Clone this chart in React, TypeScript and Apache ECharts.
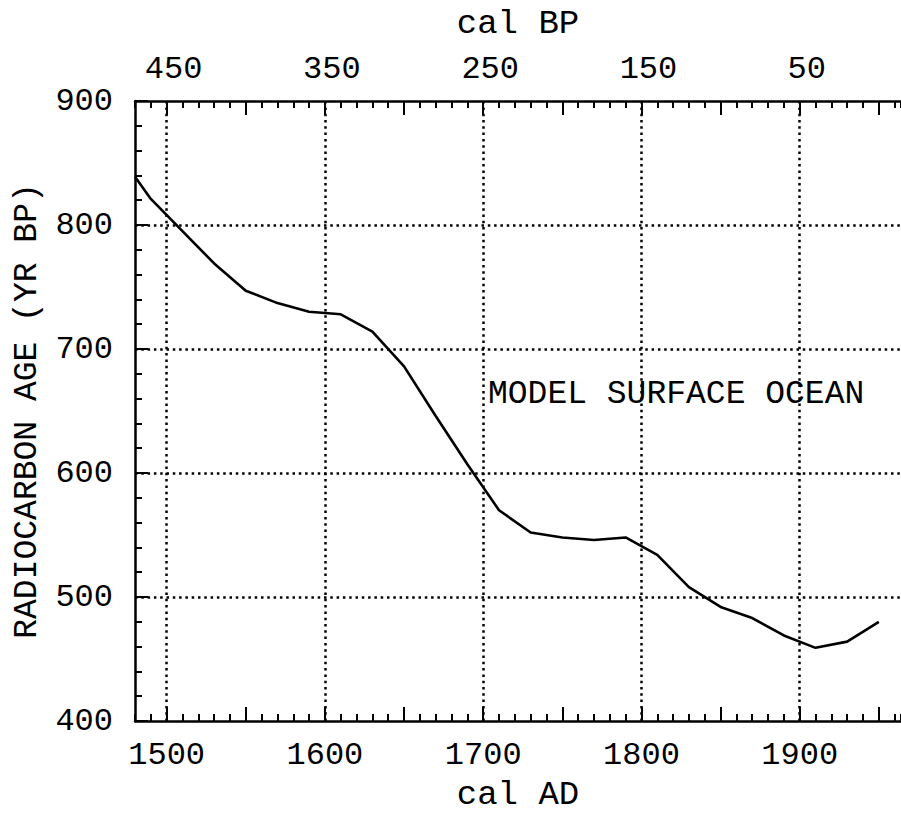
import React, { useEffect, useRef } from "react";
import * as echarts from "echarts";

const years = [1480, 1490, 1530, 1550, 1570, 1590, 1610, 1630, 1650, 1670, 1690, 1710, 1730, 1750, 1770, 1790, 1810, 1830, 1850, 1870, 1890, 1910, 1930, 1950];
const ages = [839, 821, 769, 747, 737, 730, 728, 714, 686, 646, 607, 570, 552, 548, 546, 548, 534, 508, 492, 483, 469, 459, 464, 480];

const adMajorTicks = [1500, 1550, 1600, 1650, 1700, 1750, 1800, 1850, 1900, 1950];
const adLabels = [1500, 1600, 1700, 1800, 1900];
const yGrid = [500, 600, 700, 800];
const xGrid = [1500, 1600, 1700, 1800, 1900];
const annotation = "MODEL SURFACE OCEAN";

const FONT = "Liberation Mono";

export default function App() {
  const ref = useRef<HTMLDivElement>(null);
  useEffect(() => {
    if (!ref.current) return;
    const chart = echarts.init(ref.current, null, { renderer: "svg" });
    const black = "#000";
    const labelStyle = { color: black, fontFamily: FONT, fontSize: 32 };
    const nameStyle = { color: black, fontFamily: FONT, fontSize: 34 };
    const xBase = { type: "value", min: 1480, max: 1964, gridIndex: 0, splitLine: { show: false } };
    const option: any = {
      animation: false,
      backgroundColor: "#fff",
      grid: { left: 135, top: 101, right: 0, bottom: 93, containLabel: false, outerBoundsMode: "none" },
      xAxis: [
        {
          ...xBase,
          position: "bottom",
          interval: 10,
          axisLine: { show: true, onZero: false, lineStyle: { color: black, width: 2.5 } },
          axisTick: { show: true, inside: true, length: 7, lineStyle: { color: black, width: 2 } },
          axisLabel: { show: false },
          name: "cal AD",
          nameLocation: "middle",
          nameGap: 57,
          nameTextStyle: nameStyle,
        },
        {
          ...xBase,
          position: "bottom",
          axisLine: { show: false, onZero: false },
          axisTick: { show: true, inside: true, length: 14, customValues: adMajorTicks, lineStyle: { color: black, width: 2 } },
          axisLabel: { show: true, customValues: adLabels, margin: 18, formatter: (v: number) => String(v), ...labelStyle },
        },
        {
          ...xBase,
          position: "top",
          interval: 10,
          axisLine: { show: true, onZero: false, lineStyle: { color: black, width: 2.5 } },
          axisTick: { show: true, inside: true, length: 7, lineStyle: { color: black, width: 2 } },
          axisLabel: { show: false },
          name: "cal BP",
          nameLocation: "middle",
          nameGap: 60,
          nameTextStyle: nameStyle,
        },
        {
          ...xBase,
          position: "top",
          axisLine: { show: false, onZero: false },
          axisTick: { show: true, inside: true, length: 14, customValues: adMajorTicks, lineStyle: { color: black, width: 2 } },
          axisLabel: {
            show: true,
            customValues: adLabels,
            margin: 16,
            padding: [0, 0, 0, 14],
            formatter: (v: number) => String(1950 - v),
            ...labelStyle,
          },
        },
      ],
      yAxis: [
        {
          type: "value",
          min: 400,
          max: 900,
          interval: 20,
          position: "left",
          axisLine: { show: true, onZero: false, lineStyle: { color: black, width: 2.5 } },
          axisTick: { show: true, inside: true, length: 7, lineStyle: { color: black, width: 2 } },
          axisLabel: { show: false },
          splitLine: { show: false },
          name: "RADIOCARBON AGE (YR BP)",
          nameLocation: "middle",
          nameGap: 91,
          nameRotate: 90,
          nameTextStyle: { color: black, fontFamily: FONT, fontSize: 33 },
        },
        {
          type: "value",
          min: 400,
          max: 900,
          interval: 100,
          position: "left",
          axisLine: { show: false, onZero: false },
          axisTick: { show: true, inside: true, length: 13, lineStyle: { color: black, width: 2 } },
          axisLabel: { show: true, margin: 22, formatter: (v: number) => String(v), ...labelStyle },
          splitLine: { show: false },
        },
      ],
      series: [
        {
          type: "line",
          xAxisIndex: 0,
          yAxisIndex: 0,
          data: years.map((y, i) => [y, ages[i]]),
          symbol: "none",
          lineStyle: { color: black, width: 2.6 },
          z: 5,
          markLine: {
            silent: true,
            symbol: "none",
            label: { show: false },
            lineStyle: { color: black, width: 2.5, type: [2.5, 3.8], opacity: 1 },
            emphasis: { disabled: true },
            data: [
              ...xGrid.map((x) => ({ xAxis: x })),
              ...yGrid.map((y) => ({ yAxis: y })),
            ],
          },
        },
      ],
      graphic: [
        {
          type: "text",
          x: 488,
          y: 394,
          style: {
            text: annotation,
            fill: black,
            fontFamily: FONT,
            fontSize: 33,
            verticalAlign: "middle",
            align: "left",
          },
        },
      ],
    };
    chart.setOption(option);
    return () => chart.dispose();
  }, []);
  return (
    <div
      ref={ref}
      style={{ position: "fixed", left: 0, top: 0, width: 901, height: 814, background: "#fff" }}
    />
  );
}
